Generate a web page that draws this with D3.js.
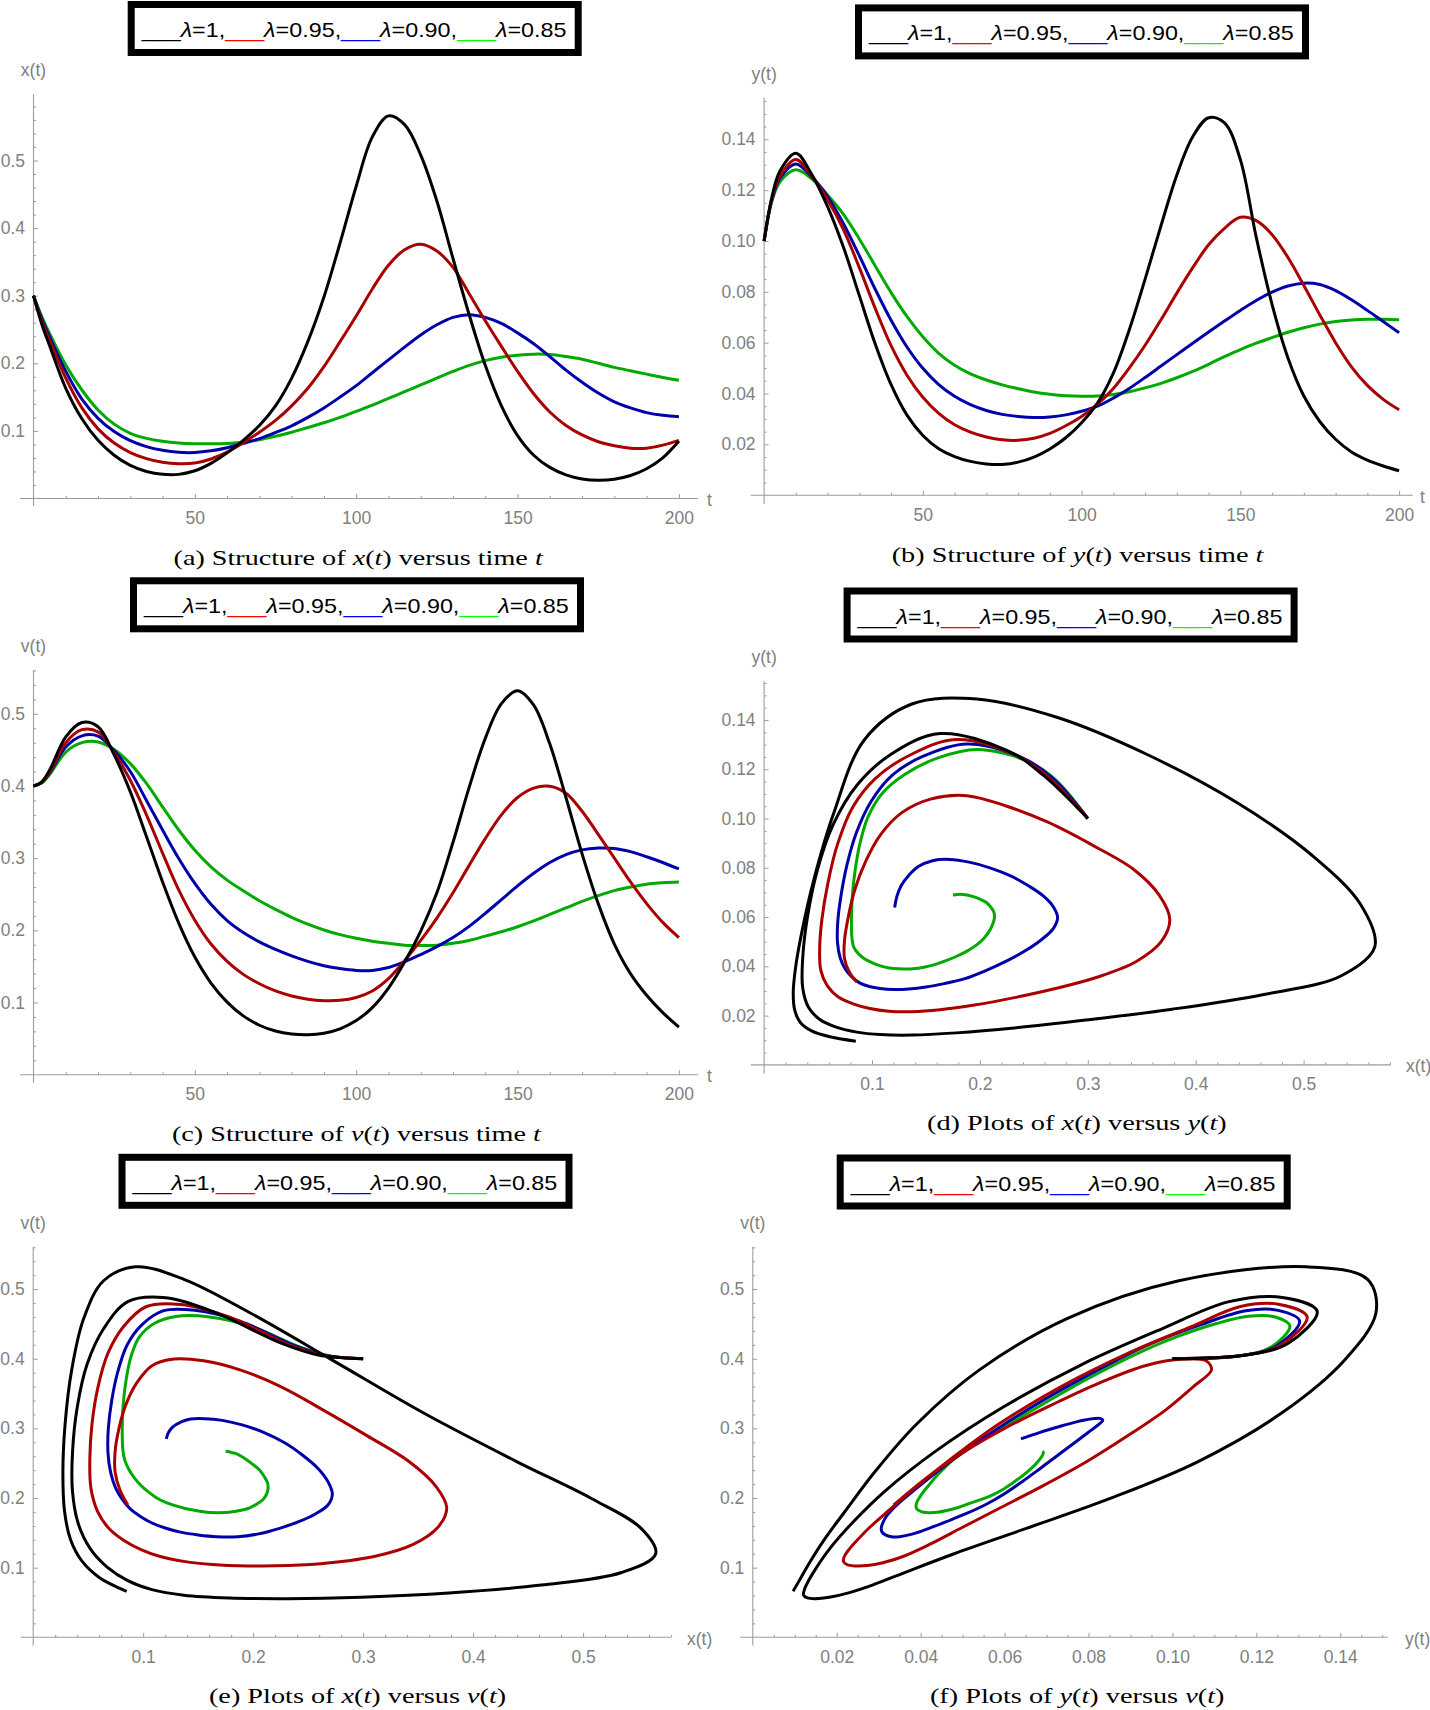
<!DOCTYPE html>
<html>
<head>
<meta charset="utf-8">
<script src="https://cdn.jsdelivr.net/npm/d3@7"></script>
<style>
  html, body { margin: 0; padding: 0; background: #ffffff; }
  svg { display: block; }
</style>
</head>
<body>
<svg id="chart" width="1430" height="1710"></svg>
<script>
// ---------------- DATA ----------------
const timeGrid = [0, 2.5, 5, 10, 15, 20, 25, 30, 35, 40, 45, 50, 55, 60, 65, 70, 75, 80, 85, 90, 95, 100,
  105, 110, 115, 120, 125, 130, 135, 140, 145, 150, 155, 160, 165, 170, 175, 180, 185, 190, 195, 200];

const lambdaNames = ["λ=1", "λ=0.95", "λ=0.90", "λ=0.85"];

// x(t)
const xLambda100 = [0.300,0.259,0.226,0.163,0.118,0.086,0.064,0.049,0.040,0.0358,0.0357,0.041,0.052,0.0675,0.086,0.108,0.137,0.178,0.232,0.298,0.378,0.462,0.535,0.566,0.553,0.508,0.440,0.355,0.272,0.197,0.137,0.093,0.064,0.046,0.035,0.029,0.027,0.0285,0.034,0.044,0.060,0.085];
const xLambda095 = [0.300,0.263,0.234,0.178,0.134,0.103,0.082,0.068,0.059,0.0535,0.0515,0.0525,0.0585,0.0685,0.0825,0.098,0.1155,0.137,0.163,0.195,0.232,0.270,0.310,0.345,0.368,0.376,0.366,0.342,0.303,0.263,0.225,0.188,0.155,0.128,0.108,0.094,0.084,0.078,0.0745,0.0745,0.079,0.086];
const xLambda090 = [0.300,0.267,0.239,0.188,0.147,0.1186,0.099,0.0855,0.0767,0.0713,0.0683,0.068,0.0705,0.0752,0.0815,0.0885,0.0975,0.1075,0.120,0.134,0.150,0.167,0.186,0.205,0.224,0.242,0.257,0.268,0.272,0.268,0.259,0.245,0.229,0.210,0.190,0.172,0.156,0.143,0.134,0.127,0.123,0.121];
const xLambda085 = [0.300,0.270,0.244,0.1975,0.1605,0.131,0.110,0.0964,0.089,0.0846,0.0821,0.0811,0.081,0.0815,0.0832,0.087,0.092,0.098,0.105,0.112,0.120,0.129,0.138,0.148,0.158,0.168,0.178,0.188,0.197,0.204,0.209,0.212,0.2135,0.213,0.210,0.206,0.200,0.194,0.189,0.184,0.179,0.175];

// y(t)
const yLambda100 = [0.100,0.1175,0.1275,0.1345,0.1262,0.1135,0.0975,0.0785,0.0595,0.0435,0.0315,0.0235,0.0183,0.0152,0.0133,0.0123,0.0121,0.0130,0.0150,0.0182,0.0226,0.0285,0.0362,0.048,0.065,0.085,0.106,0.126,0.141,0.1485,0.1465,0.132,0.1015,0.075,0.054,0.039,0.029,0.022,0.017,0.0138,0.0115,0.0096];
const yLambda095 = [0.100,0.117,0.1256,0.1321,0.1255,0.1162,0.1045,0.0895,0.0735,0.0588,0.0472,0.0385,0.0322,0.0277,0.0248,0.0229,0.0218,0.0216,0.0224,0.0243,0.0273,0.031,0.0358,0.042,0.050,0.059,0.069,0.0795,0.0895,0.0985,0.105,0.1093,0.108,0.1025,0.0935,0.0825,0.071,0.060,0.0505,0.0432,0.0377,0.0336];
const yLambda090 = [0.100,0.1165,0.1247,0.1303,0.1252,0.1175,0.1068,0.0942,0.081,0.0688,0.0583,0.0499,0.0435,0.0389,0.0356,0.0333,0.0318,0.031,0.0306,0.0308,0.0316,0.033,0.035,0.0382,0.042,0.0463,0.0508,0.0553,0.0598,0.0642,0.0685,0.0727,0.0766,0.0799,0.0823,0.0834,0.0829,0.0805,0.0769,0.0727,0.0683,0.0639];
const yLambda085 = [0.100,0.1158,0.1233,0.128,0.1245,0.1181,0.1105,0.1008,0.0902,0.0797,0.0703,0.0623,0.0558,0.0511,0.0477,0.0453,0.0434,0.0419,0.0406,0.0397,0.0391,0.0389,0.039,0.0396,0.0407,0.0422,0.044,0.0462,0.0487,0.0515,0.0545,0.0573,0.0598,0.062,0.0641,0.0659,0.0673,0.0683,0.0689,0.0692,0.0692,0.069];

// v(t)
const vLambda100 = [0.400,0.4055,0.422,0.468,0.488,0.482,0.443,0.392,0.330,0.267,0.210,0.163,0.127,0.1005,0.0815,0.0685,0.0605,0.0565,0.0555,0.0575,0.0635,0.075,0.093,0.120,0.156,0.199,0.252,0.322,0.398,0.466,0.514,0.532,0.512,0.458,0.384,0.306,0.237,0.181,0.140,0.110,0.086,0.066];
const vLambda095 = [0.400,0.405,0.419,0.460,0.478,0.475,0.446,0.408,0.360,0.307,0.256,0.214,0.181,0.157,0.139,0.126,0.116,0.109,0.1045,0.1025,0.103,0.107,0.116,0.133,0.158,0.186,0.217,0.252,0.290,0.327,0.360,0.384,0.397,0.3995,0.390,0.365,0.333,0.300,0.267,0.237,0.211,0.190];
const vLambda090 = [0.400,0.4045,0.418,0.454,0.4695,0.469,0.449,0.420,0.380,0.339,0.2996,0.265,0.236,0.2135,0.197,0.184,0.1735,0.1645,0.157,0.151,0.147,0.1445,0.1445,0.1485,0.1565,0.1665,0.1775,0.190,0.2055,0.2235,0.2425,0.2615,0.279,0.294,0.305,0.3115,0.314,0.3135,0.309,0.302,0.294,0.285];
const vLambda085 = [0.400,0.404,0.416,0.447,0.460,0.461,0.4506,0.431,0.4035,0.371,0.339,0.311,0.288,0.2696,0.2548,0.241,0.229,0.218,0.2085,0.2005,0.194,0.189,0.185,0.182,0.1795,0.179,0.1795,0.182,0.186,0.192,0.198,0.205,0.213,0.222,0.231,0.240,0.248,0.255,0.260,0.264,0.266,0.267];

// tick labels
const timeTicks = [50, 100, 150, 200];
const tenthTicks = [0.1, 0.2, 0.3, 0.4, 0.5];
const smallTicks = [0.02, 0.04, 0.06, 0.08, 0.10, 0.12, 0.14];

// ---------------- STYLE ----------------
const curveColors = ["#000000", "#aa0000", "#0000aa", "#00aa00"];
const legendColors = ["#000000", "#ff0000", "#0000ff", "#00ff00"];
const AXIS_COLOR = "#9c9c9c";
const LABEL_COLOR = "#808080";
const SANS = "'Liberation Sans', Arial, Helvetica, sans-serif";
const SERIF = "'Liberation Serif', 'Times New Roman', serif";

const series = [
  { x: xLambda100, y: yLambda100, v: vLambda100 },
  { x: xLambda095, y: yLambda095, v: vLambda095 },
  { x: xLambda090, y: yLambda090, v: vLambda090 },
  { x: xLambda085, y: yLambda085, v: vLambda085 }
].map((s, i) => ({ ...s, color: curveColors[i], name: lambdaNames[i] }));

const svg = d3.select("#chart");
svg.append("rect").attr("width", 1430).attr("height", 1710).attr("fill", "#ffffff");

// ---------------- PANELS (layout) ----------------
const panels = [
  { kind: "time", vv: "x", xr: [33.5, 678.9], xd: [0, 200], yr: [498.5, 160.5], yd: [0, 0.5],
    xExt: [-4.2, 205.9], yExt: [-0.0115, 0.598], xMaj: timeTicks, xMin: 10, xFmt: d3.format("d"),
    yMaj: tenthTicks, yMin: 0.02, yFmt: d3.format(".1f"), yLabel: "x(t)", xLabel: "t", xLabelX: 707,
    legend: [127.7, 1], caption: { cx: 358.3, base: 565, w: 369.5, parts: [["(a) Structure of ", 0], ["x", 1], ["(", 0], ["t", 1], [")", 0], [" versus time ", 0], ["t", 1]] } },
  { kind: "time", vv: "y", xr: [764.1, 1399.1], xd: [0, 200], yr: [495.2, 139.3], yd: [0, 0.14],
    xExt: [-4.2, 204.3], yExt: [-0.0035, 0.1564], xMaj: timeTicks, xMin: 10, xFmt: d3.format("d"),
    yMaj: smallTicks, yMin: 0.005, yFmt: d3.format(".2f"), yLabel: "y(t)", xLabel: "t", xLabelX: 1420,
    legend: [855, 4.4], caption: { cx: 1077.7, base: 562, w: 372, parts: [["(b) Structure of ", 0], ["y", 1], ["(", 0], ["t", 1], [")", 0], [" versus time ", 0], ["t", 1]] } },
  { kind: "time", vv: "v", xr: [33.5, 678.9], xd: [0, 200], yr: [1074.7, 713.8], yd: [0, 0.5],
    xExt: [-4.2, 205.9], yExt: [-0.011, 0.5607], xMaj: timeTicks, xMin: 10, xFmt: d3.format("d"),
    yMaj: tenthTicks, yMin: 0.02, yFmt: d3.format(".1f"), yLabel: "v(t)", xLabel: "t", xLabelX: 707,
    legend: [130, 577.3], caption: { cx: 356.5, base: 1141, w: 369, parts: [["(c) Structure of ", 0], ["v", 1], ["(", 0], ["t", 1], [")", 0], [" versus time ", 0], ["t", 1]] } },
  { kind: "phase", hv: "x", vv: "y", xr: [764.1, 1303.6], xd: [0, 0.5], yr: [1064.9, 720.0], yd: [0, 0.14],
    xExt: [-0.0123, 0.5808], yExt: [-0.0035, 0.1558], xMaj: tenthTicks, xMin: 0.02, xFmt: d3.format(".1f"),
    yMaj: smallTicks, yMin: 0.005, yFmt: d3.format(".2f"), yLabel: "y(t)", xLabel: "x(t)", xLabelX: 1406,
    legend: [843.6, 587.5], caption: { cx: 1077, base: 1130, w: 300, parts: [["(d) Plots of ", 0], ["x", 1], ["(", 0], ["t", 1], [")", 0], [" versus ", 0], ["y", 1], ["(", 0], ["t", 1], [")", 0]] } },
  { kind: "phase", hv: "x", vv: "v", xr: [33.2, 583.1], xd: [0, 0.5], yr: [1637.3, 1289.1], yd: [0, 0.5],
    xExt: [-0.0114, 0.58], yExt: [-0.0118, 0.5608], xMaj: tenthTicks, xMin: 0.02, xFmt: d3.format(".1f"),
    yMaj: tenthTicks, yMin: 0.02, yFmt: d3.format(".1f"), yLabel: "v(t)", xLabel: "x(t)", xLabelX: 687,
    legend: [118.5, 1153.8], caption: { cx: 357.7, base: 1703, w: 297.5, parts: [["(e) Plots of ", 0], ["x", 1], ["(", 0], ["t", 1], [")", 0], [" versus ", 0], ["v", 1], ["(", 0], ["t", 1], [")", 0]] } },
  { kind: "phase", hv: "y", vv: "v", xr: [752.8, 1340.3], xd: [0, 0.14], yr: [1637.3, 1289.1], yd: [0, 0.5],
    xExt: [-0.003, 0.1513], yExt: [-0.0118, 0.5608], xMaj: smallTicks, xMin: 0.005, xFmt: d3.format(".2f"),
    yMaj: tenthTicks, yMin: 0.02, yFmt: d3.format(".1f"), yLabel: "v(t)", xLabel: "y(t)", xLabelX: 1405,
    legend: [836.7, 1154.5], caption: { cx: 1077.3, base: 1703, w: 294.7, parts: [["(f) Plots of ", 0], ["y", 1], ["(", 0], ["t", 1], [")", 0], [" versus ", 0], ["v", 1], ["(", 0], ["t", 1], [")", 0]] } }
];

function minorTicks(lo, hi, step, majors) {
  const out = [];
  for (let k = 1; k * step <= hi + 1e-9; k++) {
    const v = +(k * step).toFixed(6);
    if (v <= lo) continue;
    if (majors.some(m => Math.abs(m - v) < step * 0.01)) continue;
    out.push(v);
  }
  return out;
}

function styleAxisGroup(g) {
  g.select(".domain").remove();
  g.attr("font-family", SANS).attr("font-size", 17.5);
  g.selectAll(".tick line").attr("stroke", AXIS_COLOR).attr("stroke-width", 1);
  g.selectAll(".tick text").attr("fill", LABEL_COLOR);
}

function drawPanel(p) {
  const xs = d3.scaleLinear().domain(p.xd).range(p.xr);
  const ys = d3.scaleLinear().domain(p.yd).range(p.yr);
  const g = svg.append("g");
  const x0 = xs(0), y0 = ys(0);

  // axis lines
  g.append("line").attr("x1", xs(p.xExt[0])).attr("x2", xs(p.xExt[1])).attr("y1", y0).attr("y2", y0)
    .attr("stroke", AXIS_COLOR).attr("stroke-width", 1.1);
  g.append("line").attr("x1", x0).attr("x2", x0).attr("y1", ys(p.yExt[0])).attr("y2", ys(p.yExt[1]))
    .attr("stroke", AXIS_COLOR).attr("stroke-width", 1.1);

  // x ticks
  g.append("g").attr("transform", `translate(0,${y0})`)
    .call(d3.axisBottom(xs).tickValues(p.xMaj).tickFormat(p.xFmt).tickSizeInner(-4.5).tickSizeOuter(0).tickPadding(13))
    .call(styleAxisGroup);
  g.append("g").attr("transform", `translate(0,${y0})`)
    .call(d3.axisBottom(xs).tickValues(minorTicks(0, p.xExt[1], p.xMin, p.xMaj)).tickFormat("").tickSizeInner(-2.5).tickSizeOuter(0))
    .call(styleAxisGroup);
  // y ticks
  g.append("g").attr("transform", `translate(${x0},0)`)
    .call(d3.axisLeft(ys).tickValues(p.yMaj).tickFormat(p.yFmt).tickSizeInner(-4.5).tickSizeOuter(0).tickPadding(8.5))
    .call(styleAxisGroup);
  g.append("g").attr("transform", `translate(${x0},0)`)
    .call(d3.axisLeft(ys).tickValues(minorTicks(0, p.yExt[1], p.yMin, p.yMaj)).tickFormat("").tickSizeInner(-2.5).tickSizeOuter(0))
    .call(styleAxisGroup);

  // axis labels
  g.append("text").attr("x", x0).attr("y", ys(p.yExt[1]) - 18).attr("text-anchor", "middle")
    .attr("font-family", SANS).attr("font-size", 17.5).attr("fill", LABEL_COLOR).text(p.yLabel);
  g.append("text").attr("x", p.xLabelX).attr("y", y0 + 7.5).attr("text-anchor", "start")
    .attr("font-family", SANS).attr("font-size", 17.5).attr("fill", LABEL_COLOR).text(p.xLabel);

  // curves (black drawn last, on top)
  const line = d3.line().curve(d3.curveCatmullRom.alpha(0.5));
  series.slice().reverse().forEach(s => {
    const pts = timeGrid.map((t, i) => p.kind === "time"
      ? [xs(t), ys(s[p.vv][i])]
      : [xs(s[p.hv][i]), ys(s[p.vv][i])]);
    g.append("path").attr("d", line(pts)).attr("fill", "none")
      .attr("stroke", s.color).attr("stroke-width", 3).attr("stroke-linejoin", "round").attr("stroke-linecap", "butt");
  });

  drawLegend(p.legend[0], p.legend[1]);
  drawCaption(p.caption);
}

function drawLegend(left, top) {
  const W = 454, H = 55, B = 7;
  svg.append("rect").attr("x", left + B / 2).attr("y", top + B / 2)
    .attr("width", W - B).attr("height", H - B)
    .attr("fill", "#ffffff").attr("stroke", "#000000").attr("stroke-width", B);
  const t = svg.append("text").attr("font-family", SANS).attr("font-size", 20).attr("fill", "#000000");
  lambdaNames.forEach((nm, i) => {
    t.append("tspan").attr("fill", legendColors[i]).text("___");
    t.append("tspan").attr("font-style", "italic").text("λ");
    t.append("tspan").text(nm.slice(1) + (i < lambdaNames.length - 1 ? "," : ""));
  });
  const natural = t.node().getComputedTextLength();
  const target = 425;
  const sx = target / natural;
  t.attr("transform", `translate(${left + 14},${top + 36}) scale(${sx},1)`);
}

function drawCaption(c) {
  const t = svg.append("text").attr("font-family", SERIF).attr("font-size", 21.5).attr("fill", "#000000");
  c.parts.forEach(([txt, it]) => {
    const ts = t.append("tspan").text(txt);
    if (it) ts.attr("font-style", "italic");
  });
  t.attr("xml:space", "preserve");
  const natural = t.node().getComputedTextLength();
  const sx = c.w / natural;
  t.attr("transform", `translate(${c.cx - c.w / 2},${c.base}) scale(${sx},1)`);
}

panels.forEach(drawPanel);
</script>
</body>
</html>
